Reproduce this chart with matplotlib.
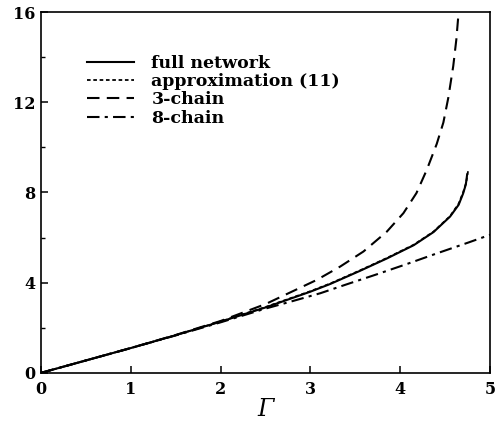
import matplotlib

matplotlib.use('Agg')
import matplotlib.pyplot as plt
from matplotlib.ticker import MultipleLocator

# values
gamma_full = [0, 0.5, 1.0, 1.5, 2.0, 2.5, 3.0, 3.22, 3.55, 3.85, 4.15, 4.37, 4.555, 4.65, 4.70, 4.73, 4.745]
full_network = [0, 0.55, 1.1, 1.67, 2.27, 2.9, 3.6, 3.94, 4.52, 5.07, 5.66, 6.24, 6.93, 7.45, 7.95, 8.35, 8.8]

gamma_approx = [0, 0.5, 1.0, 1.5, 2.0, 2.5, 3.0, 3.22, 3.55, 3.85, 4.15, 4.37, 4.555, 4.65, 4.70, 4.735, 4.755]
approximation = [0, 0.55, 1.1, 1.67, 2.28, 2.92, 3.62, 3.96, 4.54, 5.09, 5.68, 6.26, 6.95, 7.5, 8.0, 8.45, 8.95]

gamma_3 = [0, 0.5, 1.0, 1.5, 2.0, 2.5, 3.07, 3.33, 3.59, 3.85, 4.035, 4.18, 4.295, 4.406, 4.48, 4.535, 4.59, 4.625, 4.65]
chain3 = [0, 0.55, 1.1, 1.68, 2.3, 3.05, 4.12, 4.71, 5.38, 6.26, 7.08, 7.97, 9.0, 10.15, 11.1, 12.2, 13.6, 14.8, 16.0]

gamma_8 = [0, 0.5, 1.0, 1.5, 2.0, 2.5, 2.8, 3.11, 3.4, 3.74, 4.07, 4.41, 4.76, 5.0]
chain8 = [0, 0.55, 1.1, 1.66, 2.24, 2.85, 3.18, 3.53, 3.92, 4.37, 4.82, 5.3, 5.78, 6.12]

x_ticks = [0, 1, 2, 3, 4, 5]
y_ticks = [0, 4, 8, 12, 16]

plt.rcParams['font.family'] = ['DejaVu Serif']
plt.rcParams['font.weight'] = 'bold'

fig = plt.figure(figsize=(4.96, 4.30), dpi=100)
ax = fig.add_axes([0.083, 0.133, 0.905, 0.839])

ax.plot(gamma_full, full_network, color='black', lw=1.5, ls='-', label='full network')
ax.plot(gamma_approx, approximation, color='black', lw=1.3, ls=(0, (2.0, 1.5)), label='approximation (11)')
ax.plot(gamma_3, chain3, color='black', lw=1.5, ls=(0, (6, 3.5)), label='3-chain')
ax.plot(gamma_8, chain8, color='black', lw=1.5, ls=(0, (6, 2.5, 1.5, 2.5)), label='8-chain')

ax.set_xlim(0, 5)
ax.set_ylim(0, 16)
ax.set_xticks(x_ticks)
ax.set_yticks(y_ticks)
ax.yaxis.set_minor_locator(MultipleLocator(2))
ax.tick_params(direction='in', which='major', length=5, width=1.1, labelsize=11.5, pad=4)
ax.tick_params(direction='in', which='minor', length=3, width=1.0)
ax.tick_params(axis='x', pad=6)
for s in ax.spines.values():
    s.set_linewidth(1.2)

ax.set_xlabel('Γ', fontsize=17, fontstyle='italic', fontweight='normal', labelpad=0)

ax.legend(loc='upper left', bbox_to_anchor=(0.087, 0.90), frameon=False,
          prop={'size': 12.5, 'weight': 'bold'},
          handlelength=2.7, handletextpad=1.0, labelspacing=0.07, borderaxespad=0)

fig.savefig('out.png', dpi=100)
